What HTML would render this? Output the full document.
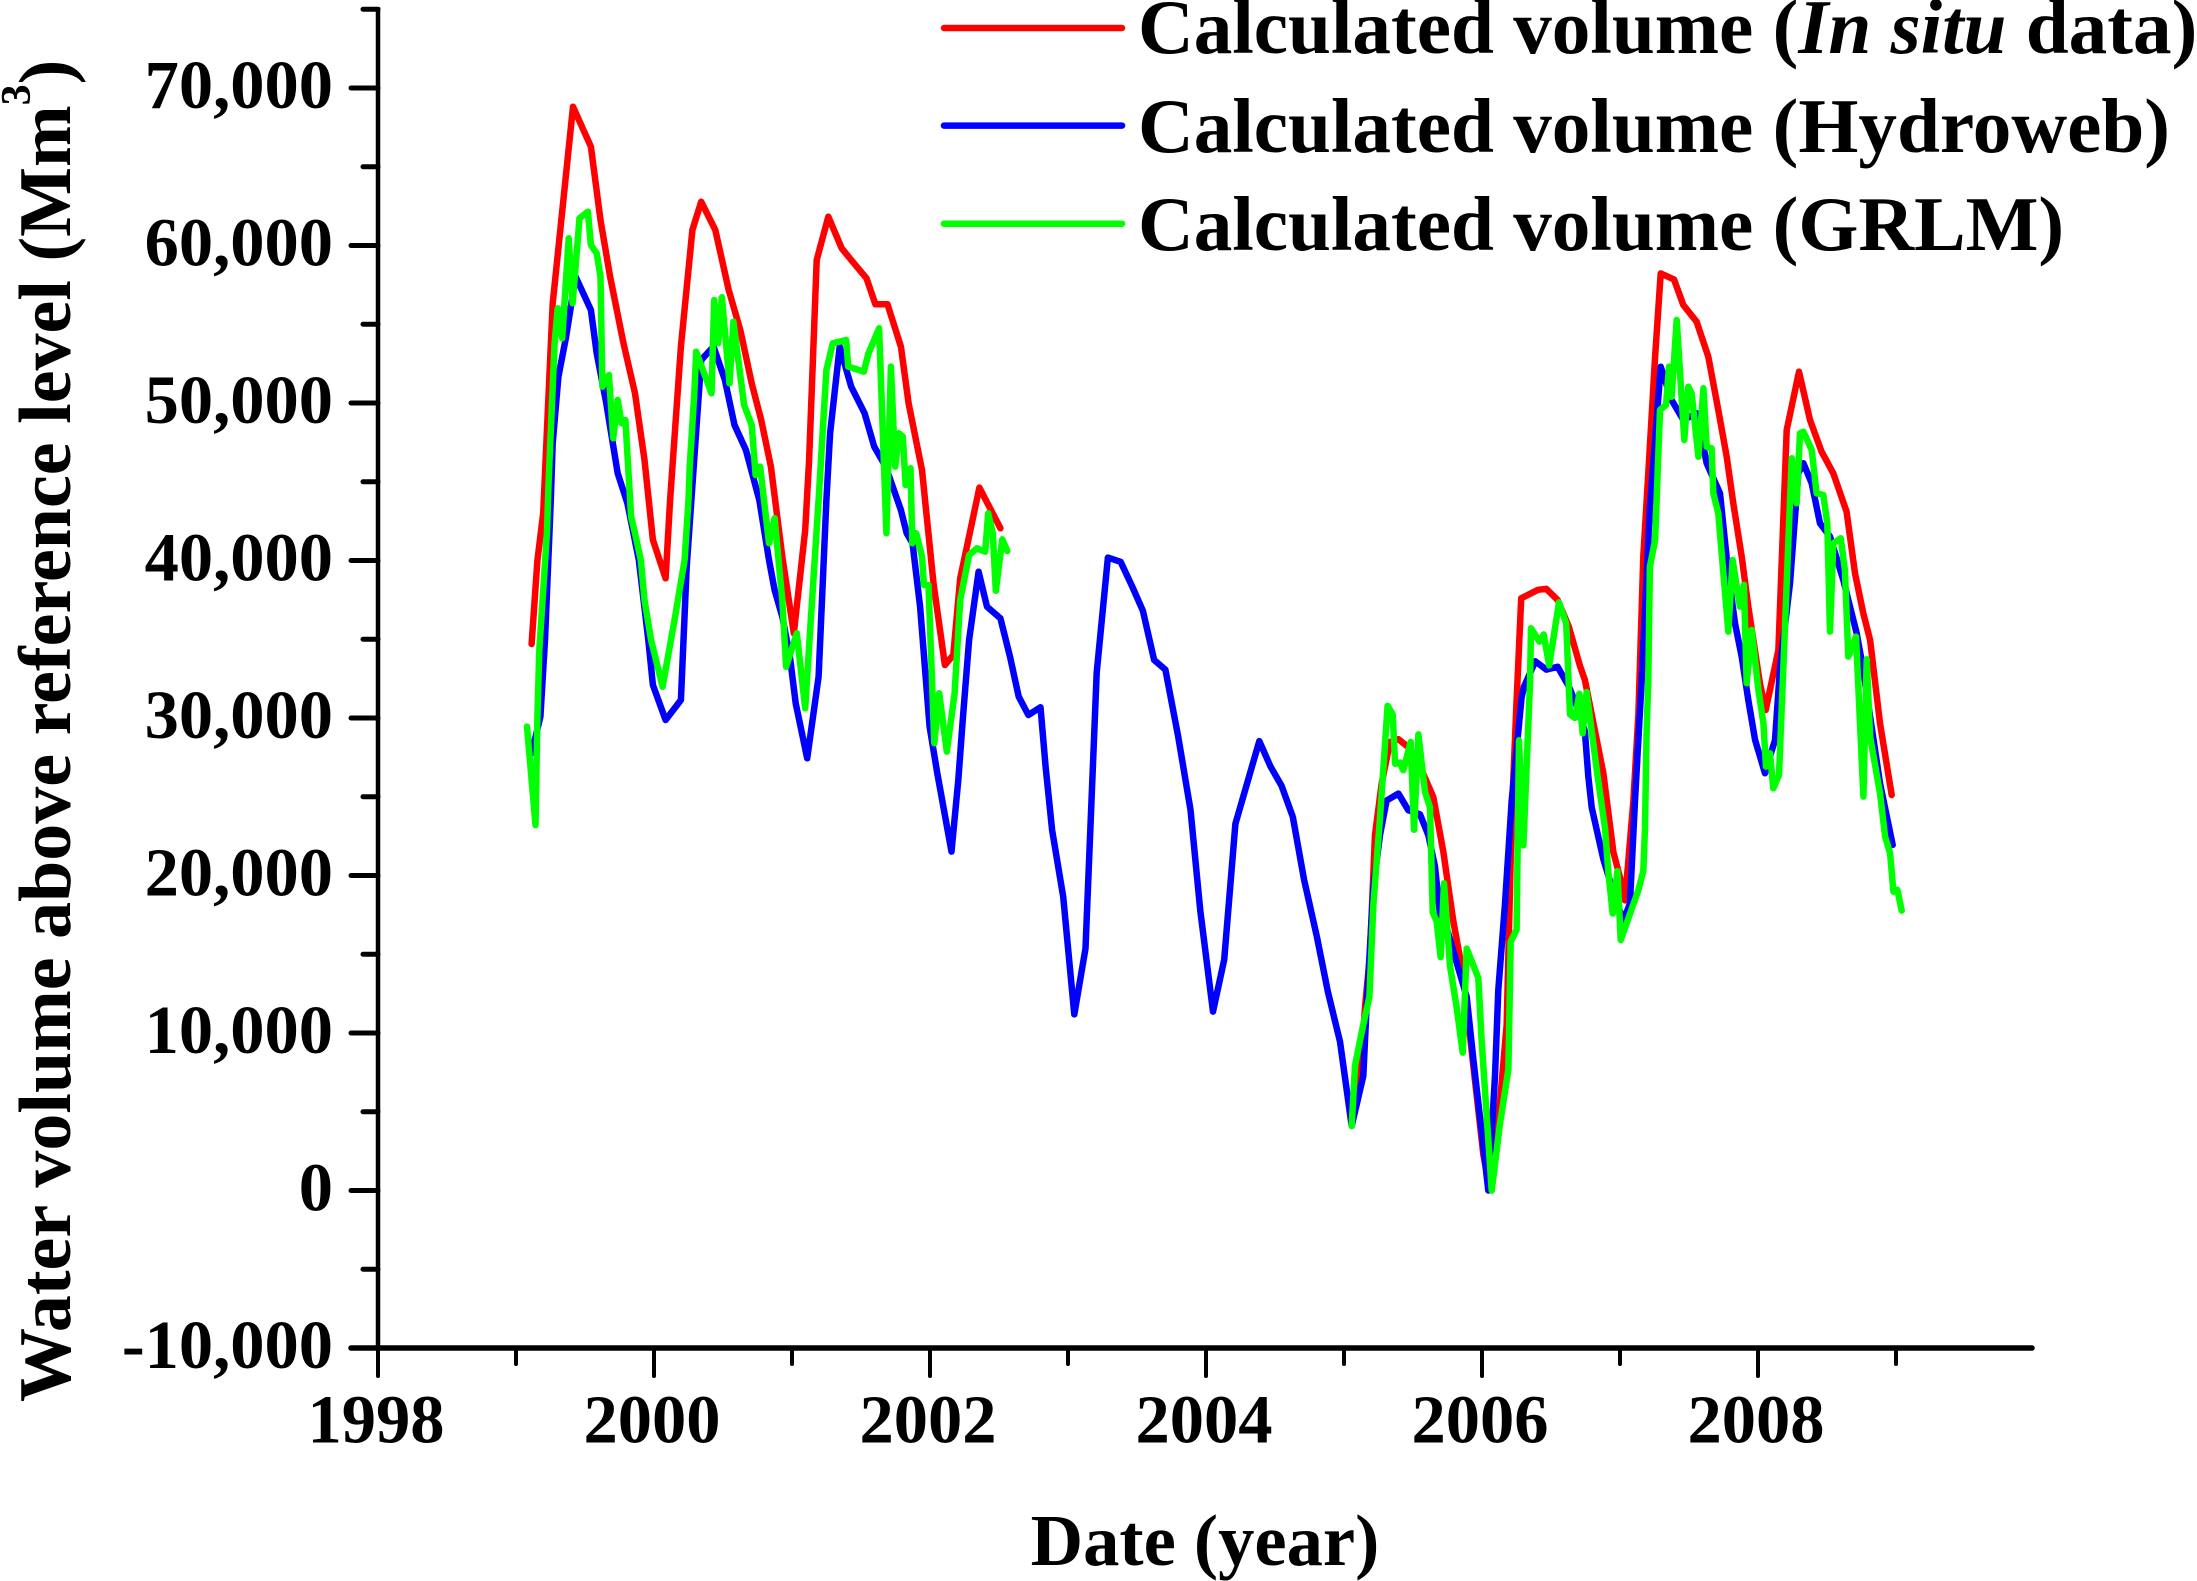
<!DOCTYPE html>
<html lang="en">
<head>
<meta charset="utf-8">
<title>Water volume above reference level</title>
<style>
html,body{margin:0;padding:0;background:#fff;}
svg{display:block;}
text{font-family:"Liberation Serif",serif;font-weight:bold;fill:#000;}
.tick-label{font-size:68.5px;}
.legend-label{font-size:77.2px;}
</style>
</head>
<body>
<svg id="chart" xmlns="http://www.w3.org/2000/svg" width="2197" height="1581" viewBox="0 0 2197 1581">
  <g id="axes"></g>
  <g id="series"></g>
  <g id="legend">
    <line x1="944" x2="1122" y1="28" y2="28" stroke="#ff0000" stroke-width="6.5" stroke-linecap="round"/>
    <text class="legend-label" x="1138" y="53">Calculated volume (<tspan font-style="italic">In situ</tspan> data)</text>
    <line x1="944" x2="1122" y1="125.6" y2="125.6" stroke="#0000ff" stroke-width="6.5" stroke-linecap="round"/>
    <text class="legend-label" x="1138" y="152">Calculated volume (Hydroweb)</text>
    <line x1="944" x2="1122" y1="223.7" y2="223.7" stroke="#00ff00" stroke-width="6.5" stroke-linecap="round"/>
    <text class="legend-label" x="1138" y="250">Calculated volume (GRLM)</text>
  </g>
  <text x="1205" y="1565" text-anchor="middle" font-size="72.6">Date (year)</text>
  <text transform="translate(70,1402) rotate(-90)" font-size="74">Water volume above reference level (Mm<tspan font-size="42" dy="-40">3</tspan><tspan dy="40">)</tspan></text>
</svg>
<script>
const xTickYears = [1998,1999,2000,2001,2002,2003,2004,2005,2006,2007,2008,2009];
const xTickLabels = ["1998","2000","2002","2004","2006","2008"];
const yTickValues = [-10000,-5000,0,5000,10000,15000,20000,25000,30000,35000,40000,45000,50000,55000,60000,65000,70000,75000];
const yTickLabels = ["-10,000","0","10,000","20,000","30,000","40,000","50,000","60,000","70,000"];

const redDates = [1999.113,1999.155,1999.197,1999.266,1999.321,1999.413,1999.543,1999.612,1999.682,1999.779,1999.862,1999.931,1999.992,2000.084,2000.117,2000.195,2000.278,2000.342,2000.444,2000.541,2000.625,2000.708,2000.777,2000.847,2000.930,2001.013,2001.096,2001.124,2001.179,2001.263,2001.360,2001.429,2001.540,2001.604,2001.692,2001.789,2001.845,2001.942,2002.025,2002.108,2002.169,2002.219,2002.358,2002.510,null,2005.056,2005.128,2005.152,2005.188,2005.225,2005.273,2005.333,2005.394,2005.466,2005.539,2005.647,2005.720,2005.792,2005.865,2005.937,2006.010,2006.058,2006.130,2006.179,2006.215,2006.251,2006.284,2006.406,2006.467,2006.548,2006.629,2006.710,2006.746,2006.879,2006.952,2007.024,2007.036,2007.097,2007.133,2007.169,2007.205,2007.254,2007.295,2007.391,2007.459,2007.555,2007.640,2007.712,2007.773,2007.821,2007.882,2007.930,2008.014,2008.056,2008.148,2008.184,2008.208,2008.297,2008.377,2008.461,2008.546,2008.642,2008.703,2008.763,2008.812,2008.884,2008.969];
const redValues = [34700,40000,43000,56328,61000,68813,66274,61618,58021,53789,50615,46383,41305,38867,43844,53578,60983,62782,60983,57175,54635,51250,48922,45960,40246,35376,41936,46383,59079,61830,59820,59079,57915,56264,56264,53578,49980,45748,38550,33366,34000,38867,44627,42046,null,4500,8363,11642,14922,22574,25853,28477,28652,28149,27165,24979,21481,17108,13610,7925,2241,55,5520,10549,23667,31100,37600,38140,38200,37500,35800,33300,32412,26509,21481,19076,18420,24760,30226,40245,45535,52941,58231,57850,56221,55163,52941,49555,46593,43631,40245,37071,32204,30509,34318,42782,48286,51989,48921,46910,45535,43101,39187,36648,34955,29663,25113];

const blueDates = [1999.113,1999.177,1999.210,1999.252,1999.266,1999.307,1999.363,1999.432,1999.543,1999.585,1999.654,1999.737,1999.807,1999.890,1999.959,1999.992,2000.084,2000.195,2000.237,2000.342,2000.431,2000.514,2000.583,2000.666,2000.763,2000.833,2000.874,2000.930,2000.985,2001.027,2001.110,2001.193,2001.249,2001.276,2001.346,2001.429,2001.526,2001.596,2001.679,2001.789,2001.831,2001.873,2001.928,2001.970,2001.997,2002.053,2002.156,2002.205,2002.239,2002.283,2002.352,2002.413,2002.510,2002.580,2002.643,2002.713,2002.801,2002.838,2002.885,2002.965,2003.046,2003.127,2003.208,2003.289,2003.381,2003.462,2003.543,2003.624,2003.706,2003.797,2003.888,2003.959,2004.051,2004.132,2004.213,2004.386,2004.467,2004.548,2004.629,2004.711,2004.802,2004.883,2004.971,2005.056,2005.140,2005.164,2005.213,2005.261,2005.309,2005.394,2005.466,2005.551,2005.611,2005.659,2005.696,2005.744,2005.816,2005.889,2005.937,2006.046,2006.094,2006.118,2006.167,2006.215,2006.287,2006.305,2006.386,2006.467,2006.548,2006.630,2006.710,2006.746,2006.770,2006.795,2006.879,2006.940,2007.024,2007.072,2007.109,2007.157,2007.217,2007.295,2007.374,2007.459,2007.555,2007.628,2007.725,2007.785,2007.833,2007.882,2007.930,2007.979,2008.051,2008.123,2008.160,2008.232,2008.292,2008.329,2008.389,2008.449,2008.522,2008.618,2008.715,2008.763,2008.812,2008.884,2008.976];
const blueValues = [27758,30086,34953,43840,47441,51673,54212,58021,55905,53155,49980,45537,43632,40035,34953,32096,29874,31144,39608,52731,53578,51462,48605,47018,43844,40031,38127,36434,33895,30932,27441,32625,43840,48076,53578,51038,49345,47229,45960,43209,41727,41089,37069,32414,29451,26489,21517,26065,30086,34953,39291,37069,36328,33895,31356,30192,30678,26912,22892,18657,11183,15364,32891,40187,39920,38407,36806,33692,33069,28888,24173,17767,11361,14653,23283,28532,26931,25686,23728,19724,16166,12607,9456,4100,7270,11642,19294,22574,24760,25197,24148,23885,22574,20606,17545,16671,14484,12298,8363,0,7270,12735,18201,24760,31319,32000,33600,33070,33250,32000,30220,29133,26290,24322,21043,19294,17108,18201,24760,32412,43419,52306,50190,48921,49344,46170,44265,39187,36013,33895,31144,28605,26489,28605,33260,38550,45535,46170,44900,42361,41515,38764,35379,33050,30086,25854,21939];

const greenDates = [1999.080,1999.141,1999.155,1999.169,1999.224,1999.238,1999.280,1999.302,1999.335,1999.382,1999.410,1999.460,1999.521,1999.543,1999.585,1999.612,1999.626,1999.673,1999.704,1999.737,1999.765,1999.793,1999.834,1999.862,1999.904,1999.931,1999.979,2000.062,2000.153,2000.222,2000.250,2000.259,2000.292,2000.306,2000.417,2000.436,2000.464,2000.492,2000.547,2000.575,2000.653,2000.708,2000.736,2000.769,2000.833,2000.874,2000.930,2000.957,2001.035,2001.096,2001.138,2001.193,2001.249,2001.296,2001.393,2001.407,2001.520,2001.554,2001.631,2001.684,2001.717,2001.748,2001.775,2001.803,2001.823,2001.859,2001.872,2001.900,2001.942,2001.956,2001.989,2002.031,2002.067,2002.122,2002.178,2002.219,2002.283,2002.339,2002.400,2002.422,2002.455,2002.477,2002.524,2002.560,null,2005.056,2005.080,2005.140,2005.184,2005.213,2005.261,2005.316,2005.353,2005.370,2005.406,2005.430,2005.483,2005.507,2005.539,2005.587,2005.623,2005.643,2005.671,2005.700,2005.725,2005.768,2005.816,2005.860,2005.889,2005.973,2005.998,2006.070,2006.130,2006.191,2006.208,2006.251,2006.268,2006.300,2006.348,2006.355,2006.416,2006.447,2006.487,2006.558,2006.610,2006.638,2006.674,2006.705,2006.729,2006.758,2006.831,2006.891,2006.916,2006.947,2006.981,2007.005,2007.133,2007.169,2007.181,2007.193,2007.205,2007.217,2007.254,2007.290,2007.333,2007.355,2007.374,2007.411,2007.466,2007.495,2007.519,2007.568,2007.604,2007.628,2007.664,2007.676,2007.712,2007.785,2007.816,2007.869,2007.898,2007.918,2007.954,2008.003,2008.039,2008.058,2008.087,2008.111,2008.152,2008.184,2008.208,2008.244,2008.280,2008.304,2008.329,2008.389,2008.425,2008.473,2008.502,2008.522,2008.546,2008.599,2008.630,2008.654,2008.710,2008.764,2008.788,2008.812,2008.884,2008.921,2008.957,2008.981,2009.010,2009.041];
const greenValues = [29451,23209,30086,34318,41724,45325,53789,56011,54106,60454,56328,61724,62147,60031,59502,58021,51038,51779,47759,50192,48711,48922,42786,41728,40035,37492,34953,31990,36434,40031,43840,45960,50615,53260,50615,56540,53789,56709,51250,55165,49874,48605,45431,45960,41093,42680,37492,33260,35376,30615,36434,43840,52096,53789,54001,52308,51991,53155,54741,41727,52308,45960,48076,47864,44796,45854,41093,41727,40246,38444,38444,28393,31567,27864,31567,37492,40349,40772,40560,42994,41724,38084,41343,40603,null,4100,7925,10549,12298,18201,23667,30772,30226,27099,27165,26684,28477,22901,28958,25307,24323,17654,17108,14813,19513,14265,11642,8756,15359,13500,9456,0,4208,7706,15796,16561,28586,21918,32193,35700,34850,35300,33340,37340,36000,30226,30007,31537,29023,31647,26728,23011,20169,17589,20278,15905,19076,20278,23011,29133,32412,39610,41303,49555,49873,52306,50402,55269,47651,51037,50614,46593,50931,47228,47122,44265,42996,35484,40033,37071,38446,32202,35588,31779,29663,26912,27758,25536,26383,33260,38550,46487,43631,48074,48180,47017,44265,44159,42361,35484,41091,41409,39398,33897,35167,25008,33726,28816,25219,22468,21410,18977,19083,17771];

const SVG_NS = "http://www.w3.org/2000/svg";
const xAt = year => 378 + (year - 1998) * 138;
const yAt = value => 1190.5 - value * 0.01575;

function make(tag, parent, attrs) {
  const el = document.createElementNS(SVG_NS, tag);
  Object.keys(attrs).forEach(k => el.setAttribute(k, attrs[k]));
  parent.appendChild(el);
  return el;
}

const axes = document.getElementById("axes");

const yAxisLine = make("line", axes, {x1:xAt(1998), x2:xAt(1998), y1:yAt(75000)-2, y2:yAt(-10000), stroke:"#000", "stroke-width":4.5});



const xAxisLine = make("line", axes, {x1:351, x2:xAt(2010)-2, y1:yAt(-10000), y2:yAt(-10000), stroke:"#000", "stroke-width":5.5, "stroke-linecap":"round"});



yTickValues.forEach(v => {
  const major = v % 10000 === 0;
  const t = make("line", axes, {x1:xAt(1998) - (major ? 27 : 15), x2:xAt(1998), y1:yAt(v), y2:yAt(v), stroke:"#000", "stroke-width":5, "stroke-linecap":"round"});
  
  
});

yTickLabels.forEach(label => {
  const v = Number(label.replace(/,/g, ""));
  const t = make("text", axes, {x:333, y:yAt(v) + 20, "text-anchor":"end", class:"tick-label"});
  t.textContent = label;
  
  
});

xTickYears.forEach(yr => {
  const major = yr % 2 === 0;
  const t = make("line", axes, {x1:xAt(yr), x2:xAt(yr), y1:yAt(-10000), y2:yAt(-10000) + (major ? 28 : 16), stroke:"#000", "stroke-width":4, "stroke-linecap":"round"});
  
  
});

xTickLabels.forEach(label => {
  const t = make("text", axes, {x:xAt(Number(label)) - 2, y:1442.5, "text-anchor":"middle", class:"tick-label"});
  t.textContent = label;
  
  
});

function linePath(dates, values) {
  let d = "";
  let pen = false;
  dates.forEach((dt, i) => {
    if (dt === null || values[i] === null) { pen = false; return; }
    d += (pen ? "L" : "M") + xAt(dt).toFixed(1) + " " + yAt(values[i]).toFixed(1);
    pen = true;
  });
  return d;
}

const seriesGroup = document.getElementById("series");
const common = {fill:"none", "stroke-width":6.5, "stroke-linejoin":"round", "stroke-linecap":"round"};

const redLine = make("path", seriesGroup, Object.assign({d:linePath(redDates, redValues), stroke:"#ff0000"}, common));



const blueLine = make("path", seriesGroup, Object.assign({d:linePath(blueDates, blueValues), stroke:"#0000ff"}, common));



const greenLine = make("path", seriesGroup, Object.assign({d:linePath(greenDates, greenValues), stroke:"#00ff00"}, common));


</script>
</body>
</html>
